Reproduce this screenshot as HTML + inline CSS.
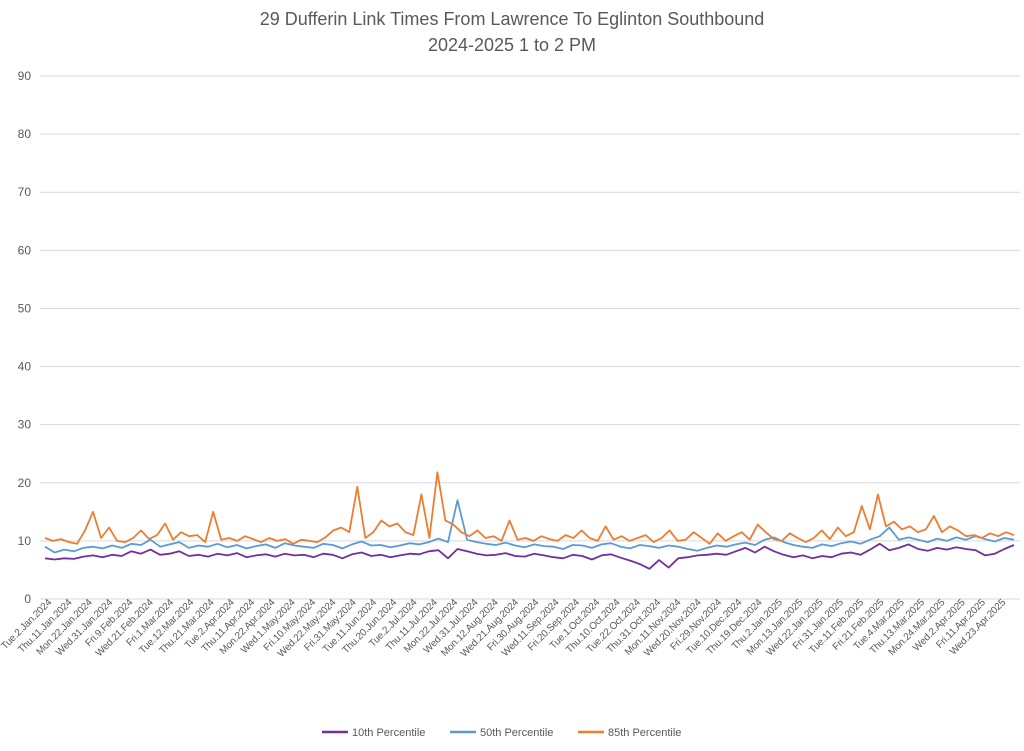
<!DOCTYPE html>
<html><head><meta charset="utf-8"><style>
body{margin:0;background:#fff;font-family:"Liberation Sans",Arial,sans-serif}
svg text{font-family:"Liberation Sans",Arial,sans-serif;fill:#595959}
</style></head><body>
<svg id="c" width="1024" height="746" xmlns="http://www.w3.org/2000/svg">
<text x="512" y="25" text-anchor="middle" font-size="18">29 Dufferin Link Times From Lawrence To Eglinton Southbound</text>
<text x="512" y="51" text-anchor="middle" font-size="18">2024-2025 1 to 2 PM</text>
<g id="grid"></g><g id="xl"></g><g id="ser"></g>
<g>
<line x1="322" y1="732" x2="348" y2="732" stroke="#7030a0" stroke-width="2.5"/><text x="352" y="736" font-size="11">10th Percentile</text>
<line x1="450" y1="732" x2="476" y2="732" stroke="#5b9bd5" stroke-width="2.5"/><text x="480" y="736" font-size="11">50th Percentile</text>
<line x1="578" y1="732" x2="604" y2="732" stroke="#ed7d31" stroke-width="2.5"/><text x="608" y="736" font-size="11">85th Percentile</text>
</g>
</svg>
<script>
const yTicks=[0,10,20,30,40,50,60,70,80,90];
const xLabels=["Tue.2.Jan.2024","Thu.11.Jan.2024","Mon.22.Jan.2024","Wed.31.Jan.2024","Fri.9.Feb.2024","Wed.21.Feb.2024","Fri.1.Mar.2024","Tue.12.Mar.2024","Thu.21.Mar.2024","Tue.2.Apr.2024","Thu.11.Apr.2024","Mon.22.Apr.2024","Wed.1.May.2024","Fri.10.May.2024","Wed.22.May.2024","Fri.31.May.2024","Tue.11.Jun.2024","Thu.20.Jun.2024","Tue.2.Jul.2024","Thu.11.Jul.2024","Mon.22.Jul.2024","Wed.31.Jul.2024","Mon.12.Aug.2024","Wed.21.Aug.2024","Fri.30.Aug.2024","Wed.11.Sep.2024","Fri.20.Sep.2024","Tue.1.Oct.2024","Thu.10.Oct.2024","Tue.22.Oct.2024","Thu.31.Oct.2024","Mon.11.Nov.2024","Wed.20.Nov.2024","Fri.29.Nov.2024","Tue.10.Dec.2024","Thu.19.Dec.2024","Thu.2.Jan.2025","Mon.13.Jan.2025","Wed.22.Jan.2025","Fri.31.Jan.2025","Tue.11.Feb.2025","Fri.21.Feb.2025","Tue.4.Mar.2025","Thu.13.Mar.2025","Mon.24.Mar.2025","Wed.2.Apr.2025","Fri.11.Apr.2025","Wed.23.Apr.2025"];
const p85=[10.5,10,10.3,9.8,9.5,11.8,15,10.5,12.3,10,9.8,10.5,11.8,10.3,11,13,10.2,11.5,10.8,11,9.8,15,10.2,10.5,10,10.8,10.3,9.8,10.5,10,10.3,9.5,10.2,10,9.8,10.6,11.8,12.3,11.5,19.3,10.5,11.5,13.5,12.5,13,11.5,11,18,10.5,21.8,13.5,12.8,11.5,10.8,11.8,10.5,10.8,10,13.5,10.2,10.5,10,10.8,10.3,10,11,10.5,11.8,10.5,10,12.5,10.2,10.8,10,10.5,11,9.8,10.5,11.8,10,10.2,11.5,10.5,9.5,11.3,10,10.8,11.5,10.2,12.8,11.5,10.3,10,11.3,10.5,9.8,10.5,11.8,10.3,12.3,10.8,11.5,16,12,18,12.5,13.3,12,12.5,11.5,12,14.3,11.5,12.5,11.8,10.8,11,10.5,11.3,10.8,11.5,11];
const p50=[9,8,8.5,8.2,8.8,9,8.7,9.2,8.8,9.5,9.3,10.2,9,9.4,9.8,8.8,9.2,9,9.5,8.9,9.3,8.7,9.1,9.4,8.8,9.6,9.2,9,8.8,9.5,9.3,8.7,9.4,9.9,9.2,9.3,8.9,9.2,9.6,9.4,9.8,10.4,9.8,17,10.2,9.8,9.5,9.3,9.7,9.2,8.9,9.4,9.1,9,8.6,9.3,9.2,8.8,9.4,9.6,9,8.7,9.3,9.1,8.8,9.2,9,8.6,8.3,8.8,9.2,9,9.4,9.7,9.3,10.2,10.6,9.8,9.3,9,8.8,9.4,9.1,9.6,9.9,9.5,10.2,10.8,12.3,10.2,10.6,10.2,9.8,10.4,10,10.6,10.2,10.8,10.3,9.9,10.5,10.2];
const p10=[7,6.8,7,6.9,7.3,7.5,7.2,7.6,7.4,8.2,7.8,8.5,7.6,7.8,8.2,7.4,7.6,7.3,7.8,7.5,7.9,7.2,7.5,7.7,7.3,7.8,7.5,7.6,7.2,7.8,7.6,7,7.7,8,7.4,7.6,7.2,7.5,7.8,7.7,8.2,8.4,7,8.6,8.2,7.8,7.5,7.6,7.9,7.4,7.3,7.8,7.5,7.2,7,7.6,7.4,6.8,7.5,7.7,7.1,6.6,6,5.2,6.7,5.4,7,7.2,7.5,7.6,7.8,7.6,8.2,8.8,8,9,8.2,7.6,7.2,7.5,7,7.4,7.2,7.8,8,7.6,8.5,9.5,8.4,8.8,9.4,8.6,8.3,8.8,8.5,8.9,8.6,8.4,7.5,7.8,8.6,9.3];
const NS="http://www.w3.org/2000/svg";
const X0=40,X1=1020,Y0=599,Y1=76,PX0=45,PX1=1014;
const ys=v=>Y0-(v/90)*(Y0-Y1);
const grid=document.getElementById('grid');
yTicks.forEach(t=>{
 const l=document.createElementNS(NS,'line');
 
 
 l.setAttribute('x1',X0);l.setAttribute('x2',X1);l.setAttribute('y1',ys(t));l.setAttribute('y2',ys(t));
 l.setAttribute('stroke','#d9d9d9');l.setAttribute('stroke-width','1');
 grid.appendChild(l);
 const tx=document.createElementNS(NS,'text');
 
 
 tx.setAttribute('x',31);tx.setAttribute('y',ys(t)+4);tx.setAttribute('text-anchor','end');tx.setAttribute('font-size','12');
 tx.textContent=t;grid.appendChild(tx);
});
const xl=document.getElementById('xl');
xLabels.forEach((s,i)=>{
 const x=44+i*(998-44)/(xLabels.length-1);
 const tx=document.createElementNS(NS,'text');
 
 
 tx.setAttribute('transform','translate('+(x+8)+',603) rotate(-45)');
 tx.setAttribute('text-anchor','end');tx.setAttribute('font-size','10');tx.setAttribute('letter-spacing','-0.2');
 tx.textContent=s;xl.appendChild(tx);
});
const ser=document.getElementById('ser');
[[p10,'#7030a0','series-10th'],[p50,'#5b9bd5','series-50th'],[p85,'#ed7d31','series-85th']].forEach(([d,c,n])=>{
 const pts=d.map((v,i)=>(PX0+i*(PX1-PX0)/(d.length-1)).toFixed(1)+','+ys(v).toFixed(1)).join(' ');
 const pl=document.createElementNS(NS,'polyline');
 
 
 pl.setAttribute('points',pts);pl.setAttribute('fill','none');pl.setAttribute('stroke',c);pl.setAttribute('stroke-width','1.8');pl.setAttribute('stroke-linejoin','round');
 ser.appendChild(pl);
});
</script>
</body></html>
